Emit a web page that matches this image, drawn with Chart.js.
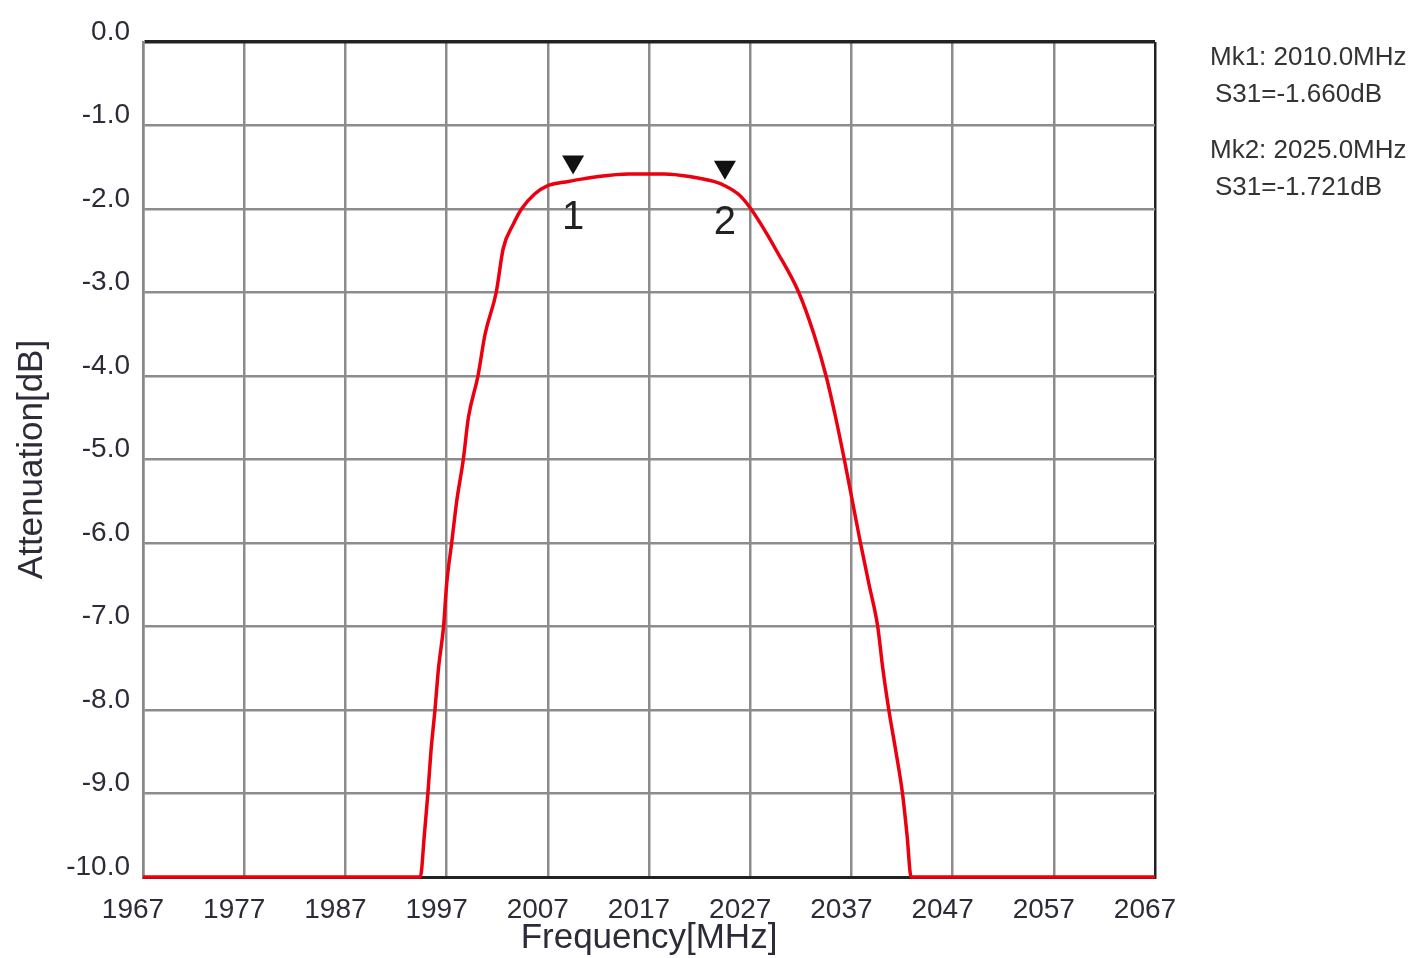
<!DOCTYPE html>
<html>
<head>
<meta charset="utf-8">
<title>S31 Attenuation</title>
<script src="https://cdn.jsdelivr.net/npm/chart.js@4.4.1/dist/chart.umd.min.js"></script>
<style>
	html, body { margin: 0; padding: 0; background: #fff; }
	canvas { display: block; }
</style>
</head>
<body>
<canvas id="s31Chart" width="1414" height="958"></canvas>
<script>
// trace (MHz / dB), clipped at -10 dB like the screen
const freq = [1967.5, 1994.9, 1995.3, 1995.65, 1995.95, 1996.35, 1996.7, 1997.2, 1997.5, 1998.0, 1998.5, 1999.15,
	1999.65, 2000.6, 2001.3, 2002.4, 2003.1, 2004.1, 2004.9, 2006.2, 2007.5, 2009.0, 2010.0, 2012.5, 2015.5,
	2019.0, 2021.5, 2023.9, 2025.0, 2026.4, 2027.4, 2028.5, 2030.1, 2032.3, 2033.8, 2035.0, 2035.95, 2036.8,
	2037.6, 2038.4, 2039.25, 2040.1, 2040.6, 2041.2, 2041.9, 2042.55, 2043.0, 2043.4, 2067.5];
const atten = [-10, -10, -9.5, -9.0, -8.5, -8.0, -7.5, -7.0, -6.5, -6.0, -5.5, -5.0,
	-4.5, -4.0, -3.5, -3.0, -2.47, -2.18, -2.0, -1.82, -1.72, -1.68, -1.66, -1.61, -1.58,
	-1.58, -1.61, -1.67, -1.721, -1.83, -1.97, -2.17, -2.5, -3.0, -3.5, -4.0, -4.5, -5.0,
	-5.5, -6.0, -6.5, -7.0, -7.5, -8.0, -8.5, -9.0, -9.5, -10, -10];

const markerFreq = [2010.0, 2025.0];
const markerVal = [-1.660, -1.721];

const xMin = 1967.5, xMax = 2067.5, xStep = 10;
const yMin = -10, yMax = 0, yStep = 1;

const FONT = "'Liberation Sans', Arial, sans-serif";

window.addEventListener('DOMContentLoaded', () => {
	const points = freq.map((f, i) => ({ x: f, y: atten[i] }));

	// triangles + numbers on the trace, readout on the right
	const markerPlugin = {
		id: 'markers',
		afterDatasetsDraw(chart) {
			const { ctx, scales: { x, y }, chartArea } = chart;
			ctx.save();
			markerFreq.forEach((f, i) => {
				const px = x.getPixelForValue(f);
				const py = y.getPixelForValue(markerVal[i]);
				ctx.fillStyle = '#111';
				ctx.beginPath();
				ctx.moveTo(px - 11, py - 25);
				ctx.lineTo(px + 11, py - 25);
				ctx.lineTo(px, py - 6);
				ctx.closePath();
				ctx.fill();
				ctx.font = `40px ${FONT}`;
				ctx.textAlign = 'center';
				ctx.textBaseline = 'middle';
				ctx.fillStyle = '#222';
				ctx.fillText(String(i + 1), px, py + 37);
			});

			ctx.font = `26px ${FONT}`;
			ctx.textAlign = 'left';
			ctx.textBaseline = 'middle';
			ctx.fillStyle = '#333';
			markerFreq.forEach((f, i) => {
				const top = chartArea.top + 16 + i * 93;
				ctx.fillText(`Mk${i + 1}: ${f.toFixed(1)}MHz`, chartArea.right + 55, top);
				ctx.fillText(`S31=${markerVal[i].toFixed(3)}dB`, chartArea.right + 60, top + 37);
			});
			ctx.restore();
		}
	};

	const ctx = document.getElementById('s31Chart').getContext('2d');
	new Chart(ctx, {
		type: 'line',
		data: {
			datasets: [{
				label: 'S31',
				data: points,
				borderColor: '#ec0010',
				borderWidth: 3.5,
				pointRadius: 0,
				cubicInterpolationMode: 'monotone',
				clip: 6
			}]
		},
		options: {
			responsive: false,
			animation: false,
			layout: { padding: { left: 0, right: 259, top: 42, bottom: 0 } },
			plugins: {
				legend: { display: false },
				tooltip: { enabled: false }
			},
			scales: {
				x: {
					type: 'linear',
					min: xMin,
					max: xMax,
					afterFit: (scale) => { scale.height = 81; },
					ticks: {
						stepSize: xStep,
						padding: 16,
						labelOffset: -10,
						maxRotation: 0,
						color: '#2c2c38',
						font: { family: FONT, size: 28 },
						callback: (v) => String(Math.floor(v))
					},
					grid: {
						drawTicks: false,
						lineWidth: 2.5,
						color: (c) => (c.tick && c.tick.value === xMax ? '#222' : '#8c8c8c')
					},
					border: { color: '#222', width: 3 },
					title: {
						display: true,
						text: 'Frequency[MHz]',
						color: '#2c2c38',
						font: { family: FONT, size: 35, lineHeight: 1 },
						padding: { top: 0, bottom: 2 }
					}
				},
				y: {
					min: yMin,
					max: yMax,
					afterFit: (scale) => { scale.width = 143; },
					ticks: {
						stepSize: yStep,
						padding: 13,
						labelOffset: -10,
						color: '#2c2c38',
						font: { family: FONT, size: 28 },
						callback: (v) => v.toFixed(1)
					},
					grid: {
						drawTicks: false,
						lineWidth: (c) => (c.tick && c.tick.value === yMax ? 3.5 : 2.5),
						color: (c) => (c.tick && c.tick.value === yMax ? '#222' : '#8c8c8c')
					},
					border: { color: '#888', width: 2.5 },
					title: {
						display: true,
						text: 'Attenuation[dB]',
						color: '#2c2c38',
						font: { family: FONT, size: 35, lineHeight: 1 },
						padding: { top: 15, bottom: 0 }
					}
				}
			}
		},
		plugins: [markerPlugin]
	});
});
</script>
</body>
</html>
